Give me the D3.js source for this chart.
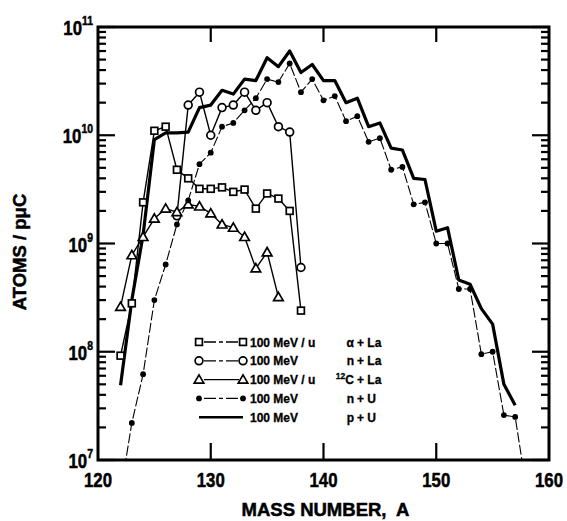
<!DOCTYPE html>
<html>
<head>
<meta charset="utf-8">
<script src="https://cdn.jsdelivr.net/npm/d3@7"></script>
<style>
  body { margin: 0; background: #fff; }
  svg text { font-weight: bold; fill: #000; stroke: #000; stroke-width: 0.5px; }
</style>
</head>
<body>
<svg id="chart" width="567" height="521"></svg>
<script>
// Yields (atoms per microcoulomb) versus mass number A
const massAlphaLa = d3.range(122, 139);
const yieldAlphaLa = [9.2e7, 2.8e8, 2.4e9, 1.1e10, 1.2e10, 4.8e9, 4.0e9, 3.2e9, 3.2e9, 3.3e9, 3.0e9, 3.15e9, 2.1e9, 2.9e9, 2.6e9, 2.0e9, 2.4e8];

const massNLa = d3.range(127, 139);
const yieldNLa = [1.8e9, 1.9e10, 2.5e10, 1.0e10, 1.8e10, 1.9e10, 2.5e10, 1.7e10, 2.0e10, 1.2e10, 1.07e10, 6.0e8];

const massCLa = d3.range(122, 137);
const yieldCLa = [2.6e8, 7.8e8, 1.15e9, 1.7e9, 2.1e9, 1.95e9, 2.3e9, 2.2e9, 1.9e9, 1.5e9, 1.4e9, 1.15e9, 5.9e8, 8.3e8, 3.2e8];

const massNU = d3.range(122, 159);
const yieldNU = [5e6, 2.2e7, 6.2e7, 3.0e8, 6.4e8, 1.5e9, 2.5e9, 5.4e9, 6.9e9, 1.2e10, 1.3e10, 1.7e10, 2.2e10, 3.3e10, 3.1e10, 4.6e10, 2.5e10, 3.3e10, 2.1e10, 2.3e10, 1.35e10, 1.5e10, 8.7e9, 9.4e9, 4.8e9, 5.1e9, 2.3e9, 2.4e9, 1.0e9, 1.0e9, 3.8e8, 3.8e8, 9.5e7, 1.0e8, 2.6e7, 2.5e7, 5.4e6];

const massPU = d3.range(122, 158);
const yieldPU = [4.9e7, 3.0e8, 1.2e9, 9.1e9, 1.05e10, 1.05e10, 1.07e10, 1.8e10, 1.9e10, 2.6e10, 2.4e10, 3.3e10, 3.2e10, 5.2e10, 4.3e10, 6.0e10, 3.8e10, 4.5e10, 3.2e10, 3.2e10, 2.0e10, 2.2e10, 1.2e10, 1.3e10, 7.6e9, 7.3e9, 4.0e9, 3.9e9, 1.3e9, 1.4e9, 4.6e8, 4.2e8, 2.5e8, 1.8e8, 5.0e7, 3.2e7];

const xTickValues = [120, 130, 140, 150, 160];
const yDecades = [7, 8, 9, 10, 11];

const legendEnergy = ["100 MeV / u", "100 MeV", "100 MeV / u", "100 MeV", "100 MeV"];
const legendProjectile = ["\u03b1", "n", "C", "n", "p"];
const legendTarget = ["La", "La", "La", "U", "U"];

const font = '"Liberation Sans", Arial, Helvetica, sans-serif';

const svg = d3.select("#chart");
const pL = 98, pR = 549, pT = 27, pB = 460;

const x = d3.scaleLinear().domain([120, 160]).range([pL, pR]);
const y = d3.scaleLog().domain([1e7, 1e11]).range([pB, pT]);

svg.append("defs").append("clipPath").attr("id", "plotClip")
  .append("rect").attr("x", pL).attr("y", pT).attr("width", pR - pL).attr("height", pB - pT);

const line = d3.line().x(d => x(d[0])).y(d => y(d[1]));
const zip = (a, b) => a.map((v, i) => [v, b[i]]);

const plot = svg.append("g").attr("clip-path", "url(#plotClip)");

// Series definitions: data, line style and marker type
const series = [
  { data: zip(massAlphaLa, yieldAlphaLa), width: 1.4, dash: null, marker: "square" },
  { data: zip(massNLa, yieldNLa), width: 1.4, dash: null, marker: "circle" },
  { data: zip(massCLa, yieldCLa), width: 1.4, dash: null, marker: "triangle" },
  { data: zip(massNU, yieldNU), width: 1.1, dash: "10,2.5", marker: "dot" },
  { data: zip(massPU, yieldPU), width: 3.2, dash: null, marker: null }
];
const legendDash = ["12,3,4,3", "12,3,4,3", null, "12,3,4,3", null];

function drawMarker(g, type, cx, cy) {
  if (type === "square") {
    g.append("rect").attr("x", cx - 3.4).attr("y", cy - 3.4).attr("width", 6.8).attr("height", 6.8)
      .attr("fill", "#fff").attr("stroke", "#000").attr("stroke-width", 1.7);
  } else if (type === "circle") {
    g.append("circle").attr("cx", cx).attr("cy", cy).attr("r", 3.9)
      .attr("fill", "#fff").attr("stroke", "#000").attr("stroke-width", 1.7);
  } else if (type === "triangle") {
    g.append("path").attr("d", d3.symbol(d3.symbolTriangle, 40)())
      .attr("transform", `translate(${cx},${cy + 0.8})`)
      .attr("fill", "#fff").attr("stroke", "#000").attr("stroke-width", 1.7);
  } else if (type === "dot") {
    g.append("circle").attr("cx", cx).attr("cy", cy).attr("r", 2.9).attr("fill", "#000");
  }
}

// lines first, markers on top
series.forEach(s => {
  plot.append("path").datum(s.data).attr("d", line)
    .attr("fill", "none").attr("stroke", "#000").attr("stroke-width", s.width)
    .attr("stroke-linejoin", "round").attr("stroke-dasharray", s.dash);
});
series.forEach(s => {
  if (!s.marker) return;
  const g = plot.append("g");
  s.data.forEach(d => {
    if (d[1] >= 1e7 && d[1] <= 1e11) drawMarker(g, s.marker, x(d[0]), y(d[1]));
  });
});

// Frame
svg.append("rect").attr("x", pL).attr("y", pT).attr("width", pR - pL).attr("height", pB - pT)
  .attr("fill", "none").attr("stroke", "#000").attr("stroke-width", 3);

// Inward ticks on all four sides
const tickG = svg.append("g").attr("stroke", "#000").attr("stroke-width", 2.2);
xTickValues.slice(1, -1).forEach(v => {
  tickG.append("line").attr("x1", x(v)).attr("x2", x(v)).attr("y1", pB).attr("y2", pB - 17);
  tickG.append("line").attr("x1", x(v)).attr("x2", x(v)).attr("y1", pT).attr("y2", pT + 15);
});
const minorVals = [];
yDecades.slice(0, -1).forEach(e => { for (let m = 2; m <= 9; m++) minorVals.push(m * Math.pow(10, e)); });
yDecades.forEach(e => {
  const yy = y(Math.pow(10, e));
  tickG.append("line").attr("x1", pL).attr("x2", pL + 17).attr("y1", yy).attr("y2", yy);
  tickG.append("line").attr("x1", pR).attr("x2", pR - 17).attr("y1", yy).attr("y2", yy);
});
minorVals.forEach(v => {
  const yy = y(v);
  tickG.append("line").attr("x1", pL).attr("x2", pL + 8).attr("y1", yy).attr("y2", yy);
  tickG.append("line").attr("x1", pR).attr("x2", pR - 8).attr("y1", yy).attr("y2", yy);
});

// Tick labels in a horizontally condensed bold face
xTickValues.forEach(v => {
  svg.append("g").attr("transform", `translate(${x(v)},${pB + 27}) scale(0.8,1)`)
    .append("text").attr("text-anchor", "middle")
    .style("font-family", font).style("font-size", "21px").text(v);
});

yDecades.forEach(e => {
  const t = svg.append("g").attr("transform", `translate(93,${y(Math.pow(10, e)) + 8}) scale(0.8,1)`)
    .append("text").attr("text-anchor", "end")
    .style("font-family", font).style("font-size", "21px");
  t.append("tspan").text("10");
  t.append("tspan").attr("dy", -10).style("font-size", "13px").text(String(e));
});

// Axis titles
svg.append("text").attr("x", (pL + pR) / 2 + 2).attr("y", 516).attr("text-anchor", "middle")
  .attr("xml:space", "preserve")
  .style("font-family", font).style("font-size", "18.5px").text("MASS NUMBER,  A");
svg.append("text").attr("transform", "translate(26,252) rotate(-90)").attr("text-anchor", "middle")
  .style("font-family", font).style("font-size", "18.5px").text("ATOMS / p\u03bcC");

// Legend
const legY0 = 342, legDy = 18.8, lx1 = 199, lx2 = 243;
series.forEach((s, i) => {
  const yy = legY0 + i * legDy;
  const g = svg.append("g");
  g.append("line").attr("x1", lx1 + (s.marker ? 5 : 0)).attr("x2", lx2 - (s.marker ? 4 : 0))
    .attr("y1", yy).attr("y2", yy).attr("stroke", "#000")
    .attr("stroke-width", s.marker ? 1.3 : 2.6).attr("stroke-dasharray", legendDash[i]);
  if (s.marker) { drawMarker(g, s.marker, lx1, yy); drawMarker(g, s.marker, lx2, yy); }
  g.append("text").attr("x", 250).attr("y", yy + 4.5)
    .style("font-family", font).style("font-size", "12px").style("stroke-width", "0.3px").text(legendEnergy[i]);
  const p = g.append("text").attr("x", 354).attr("y", yy + 4.5).attr("text-anchor", "end")
    .style("font-family", font).style("font-size", "12px").style("stroke-width", "0.3px");
  if (i === 2) p.append("tspan").attr("dy", -5).style("font-size", "8.5px").text("12");
  p.append("tspan").attr("dy", i === 2 ? 5 : 0).text(legendProjectile[i]);
  g.append("text").attr("x", 357).attr("y", yy + 4.5)
    .style("font-family", font).style("font-size", "12px").style("stroke-width", "0.3px").text("+ " + legendTarget[i]);
});
</script>
</body>
</html>
